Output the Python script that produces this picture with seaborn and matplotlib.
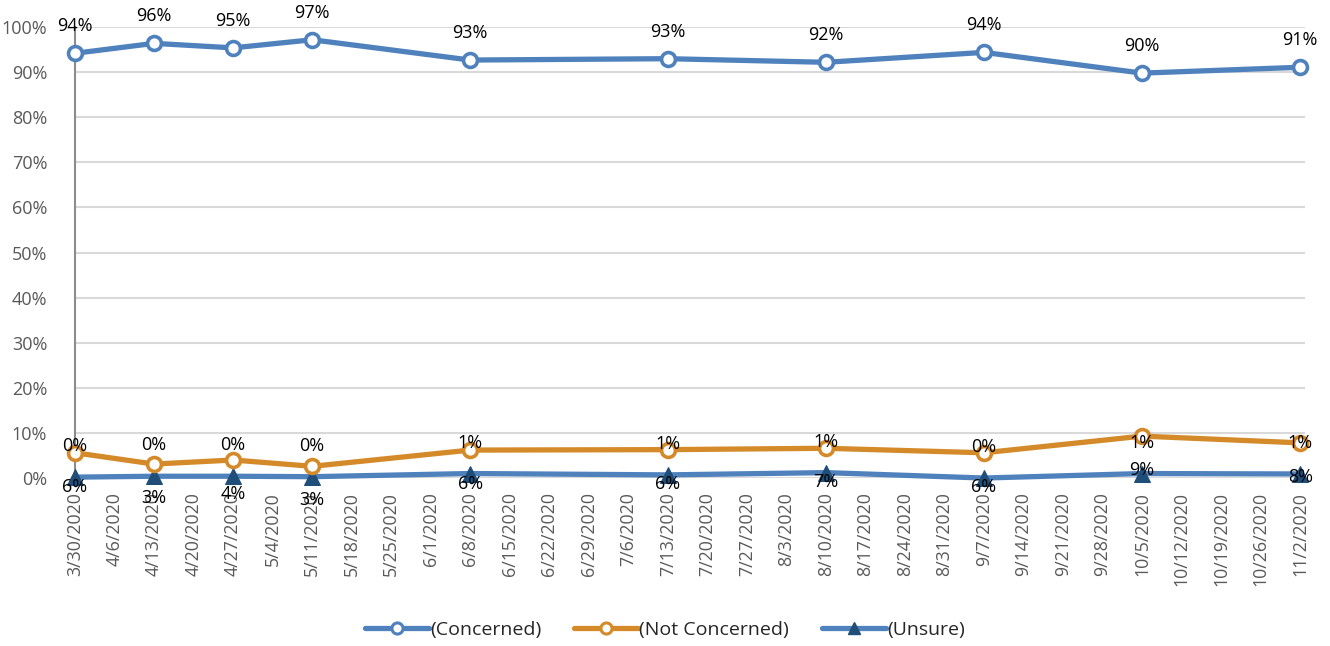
import pandas as pd
import seaborn as sns
from matplotlib import pyplot as plt
from matplotlib.lines import Line2D

survey_dates = ["2020-03-30", "2020-04-13", "2020-04-27", "2020-05-11", "2020-06-08",
                "2020-07-13", "2020-08-10", "2020-09-07", "2020-10-05", "2020-11-02"]
concerned = [94.2, 96.4, 95.4, 97.2, 92.7, 93.0, 92.2, 94.4, 89.8, 91.1]
not_concerned = [5.6, 3.1, 4.0, 2.6, 6.2, 6.3, 6.6, 5.6, 9.3, 7.8]
unsure = [0.2, 0.4, 0.4, 0.3, 1.0, 0.7, 1.2, 0.0, 1.0, 0.9]
axis_start, axis_end = "2020-03-30", "2020-11-02"

BLUE = "#4f81bd"
ORANGE = "#d58a2a"
NAVY = "#1f4e79"
GRAY = "#595959"

df = pd.DataFrame({"date": pd.to_datetime(survey_dates), "concerned": concerned,
                   "not_concerned": not_concerned, "unsure": unsure})


def pct(v):
    return f"{int(v + 0.5)}%"


sns.set_style("white")
plt.rcParams["font.family"] = ["Open Sans", "DejaVu Sans"]

fig = plt.figure(figsize=(13.3, 6.46), dpi=100)
ax = fig.add_axes([0.0564, 0.260, 0.925, 0.698])

sns.lineplot(data=df, x="date", y="concerned", ax=ax, color=BLUE, linewidth=3.8,
             marker="o", markersize=10, markerfacecolor="white", markeredgecolor=BLUE,
             markeredgewidth=2.6, clip_on=False, zorder=4)
sns.lineplot(data=df, x="date", y="not_concerned", ax=ax, color=ORANGE, linewidth=3.8,
             marker="o", markersize=10, markerfacecolor="white", markeredgecolor=ORANGE,
             markeredgewidth=2.6, clip_on=False, zorder=4)
sns.lineplot(data=df, x="date", y="unsure", ax=ax, color=BLUE, linewidth=3.8,
             marker="^", markersize=12, markerfacecolor=NAVY, markeredgecolor=NAVY,
             clip_on=False, zorder=3)

# data labels (positioned as in the original export)
for d, c, n, u in zip(df["date"], concerned, not_concerned, unsure):
    ax.annotate(pct(c), (d, c), xytext=(0, 27), textcoords="offset pixels",
                ha="center", va="center", fontsize=13, color="black", zorder=6)
    ax.annotate(pct(u), (d, u), xytext=(0, 31), textcoords="offset pixels",
                ha="center", va="center", fontsize=13, color="black", zorder=6)
    ax.annotate(pct(n), (d, n), xytext=(0, -34), textcoords="offset pixels",
                ha="center", va="center", fontsize=13, color="black", zorder=6)

weeks = pd.date_range(axis_start, axis_end, freq="7D")
ax.set_xticks(weeks)
ax.set_xticklabels([f"{w.month}/{w.day}/{w.year}" for w in weeks], rotation=90,
                   fontsize=12.8, color=GRAY)
ax.set_xlim(pd.Timestamp(axis_start), pd.Timestamp(axis_end) + pd.Timedelta(days=0.9))

ax.set_ylim(0, 100)
ax.set_yticks(range(0, 101, 10))
ax.set_yticklabels([f"{v}%" for v in range(0, 101, 10)], fontsize=13, color=GRAY)
ax.yaxis.grid(True, color="#d9d9d9", linewidth=1.5)
ax.set_axisbelow(True)
ax.set_xlabel("")
ax.set_ylabel("")

for s in ["top", "right", "bottom"]:
    ax.spines[s].set_visible(False)
ax.spines["left"].set_color("#8c8c8c")
ax.spines["left"].set_linewidth(1.5)
ax.tick_params(axis="x", length=4, color="#e3e3e3", pad=6)
ax.tick_params(axis="y", length=0, pad=20)

handles = [
    Line2D([], [], color=BLUE, linewidth=3.8, marker="o", markersize=8,
           markerfacecolor="white", markeredgecolor=BLUE, markeredgewidth=2.2),
    Line2D([], [], color=ORANGE, linewidth=3.8, marker="o", markersize=8,
           markerfacecolor="white", markeredgecolor=ORANGE, markeredgewidth=2.2),
    Line2D([], [], color=BLUE, linewidth=3.8, marker="^", markersize=9,
           markerfacecolor=NAVY, markeredgecolor=NAVY),
]
fig.legend(handles, ["(Concerned)", "(Not Concerned)", "(Unsure)"], loc="center",
           bbox_to_anchor=(0.5, 0.025), ncol=3, frameon=False, fontsize=14,
           handlelength=3.3, handletextpad=0.05, columnspacing=1.7)

fig.savefig("out.png", dpi=100)
